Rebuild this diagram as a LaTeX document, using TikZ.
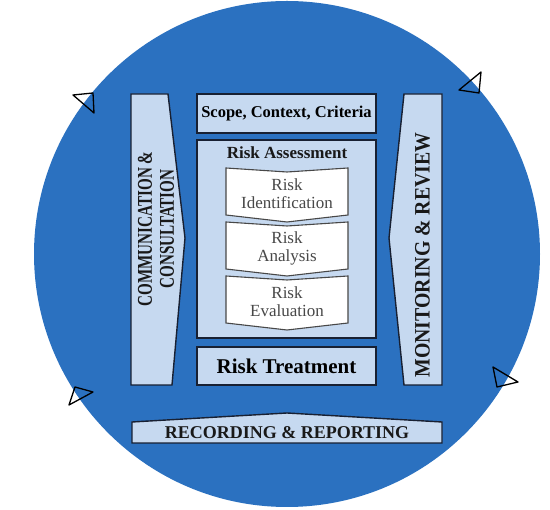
\documentclass[tikz,border=0pt]{standalone}
\usepackage{fontspec}
\setmainfont{Liberation Serif}

\definecolor{circblue}{RGB}{43,113,192}
\definecolor{boxfill}{RGB}{198,217,240}
\definecolor{boxline}{RGB}{24,32,50}
\definecolor{stepgray}{RGB}{72,72,72}

\begin{document}
\begin{tikzpicture}[x=1pt, y=-1pt,
  panel/.style={draw=boxline, fill=boxfill, line width=1.4pt},
  stepshape/.style={draw=stepgray, fill=white, line width=1.1pt},
  steplabel/.style={align=center, text=stepgray, inner sep=0pt, font=\fontsize{17}{18}\selectfont},
  boldlabel/.style={align=center, text=black!90, inner sep=0pt},
  marker/.style={draw=black, line width=1.3pt, line join=round}]
\useasboundingbox (0,0) rectangle (550,510);
% background circle
\fill[circblue] (287,254) circle[radius=253];
% side panels
\draw[panel] (131,94) -- (168,94) -- (185,238) -- (172,385) -- (131,385) -- cycle;
\draw[panel] (404,94) -- (442,94) -- (442,385) -- (404,385) -- (389,238) -- cycle;
\draw[panel] (132,422) -- (287,413) -- (442,422) -- (442,443) -- (132,443) -- cycle;
\node[boldlabel, rotate=90, xscale=0.72, font=\bfseries\fontsize{21}{22}\selectfont] (comm) at (156,229) {COMMUNICATION \&\\CONSULTATION};
\node[boldlabel, rotate=90, xscale=0.9, font=\bfseries\fontsize{22}{24}\selectfont] (monitor) at (422.5,255) {MONITORING \& REVIEW};
\node[boldlabel, font=\bfseries\fontsize{18}{20}\selectfont] (record) at (287,433) {RECORDING \& REPORTING};
% centre column
\node[panel, minimum width=179, minimum height=39, font=\bfseries\fontsize{16.5}{18}\selectfont] (scope) at (286.5,113.5) {Scope, Context, Criteria};
\node[panel, minimum width=179, minimum height=198] (assess) at (286.5,239) {};
\node[boldlabel, font=\bfseries\fontsize{17}{18}\selectfont] (assesstitle) at (287,153) {Risk Assessment};
\foreach \t/\nm/\lbl in {168/ident/Identification, 222/analysis/Analysis, 276/evaluation/Evaluation}{
  \draw[stepshape] (226,\t) -- (287,\t+4) -- (348,\t) -- (348,\t+47) -- (287,\t+54) -- (226,\t+47) -- cycle;
  \node[steplabel] (\nm) at (287,\t+26) {Risk\\\lbl};
}
\node[panel, minimum width=179, minimum height=38, font=\bfseries\fontsize{21}{22}\selectfont] (treat) at (286.5,366) {Risk Treatment};
% arrow markers on the circle
\draw[marker] (73,95) -- (93,93) -- (94,113) -- cycle;
\draw[marker] (459,90) -- (481,72) -- (479,93) -- cycle;
\draw[marker] (75,387) -- (93,392) -- (69,405) -- cycle;
\draw[marker] (493,367) -- (518,382) -- (497,387) -- cycle;
\end{tikzpicture}
\end{document}
